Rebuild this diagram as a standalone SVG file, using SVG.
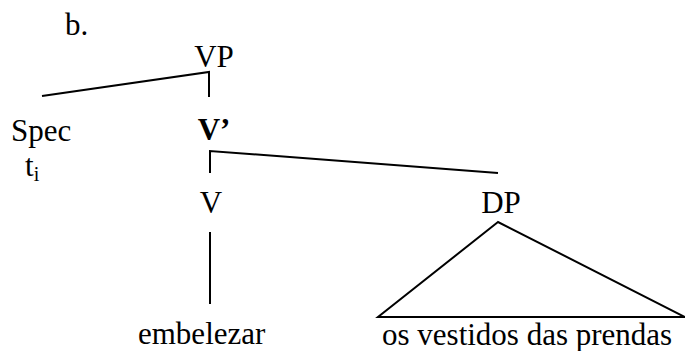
<svg xmlns="http://www.w3.org/2000/svg" width="685" height="351" viewBox="0 0 685 351">
<style>
text{font-family:'Liberation Serif','Times New Roman',Tinos,'DejaVu Serif',serif;font-size:31px;fill:#000}
.b{font-weight:bold}
.c{text-anchor:middle}
line,polyline,polygon{stroke:#000;stroke-width:2;fill:none}
</style>
<rect width="685" height="351" fill="#fff"/>
<g id="label-b"><text x="65" y="35">b.</text></g>
<g id="node-VP"><text class="c" x="214" y="67">VP</text></g>
<g id="node-Spec"><text x="11" y="141">Spec</text><text x="25" y="176">t<tspan font-size="20" dy="5">i</tspan></text></g>
<g id="node-Vbar"><text class="c b" x="214" y="140">V’</text></g>
<g id="node-V"><text class="c" x="211" y="213">V</text></g>
<g id="node-DP"><text class="c" x="501" y="213">DP</text></g>
<g id="node-embelezar"><text x="138" y="344">embelezar</text></g>
<g id="node-os"><text x="382" y="345">os vestidos das prendas</text></g>
<g id="connectors">
<polyline points="42,96 209,72 209,97"/>
<polyline points="210,173 210,151 498,173"/>
<line x1="210" y1="232" x2="210" y2="304"/>
<polygon points="498,222 378,317 685,317"/>
</g>
</svg>
